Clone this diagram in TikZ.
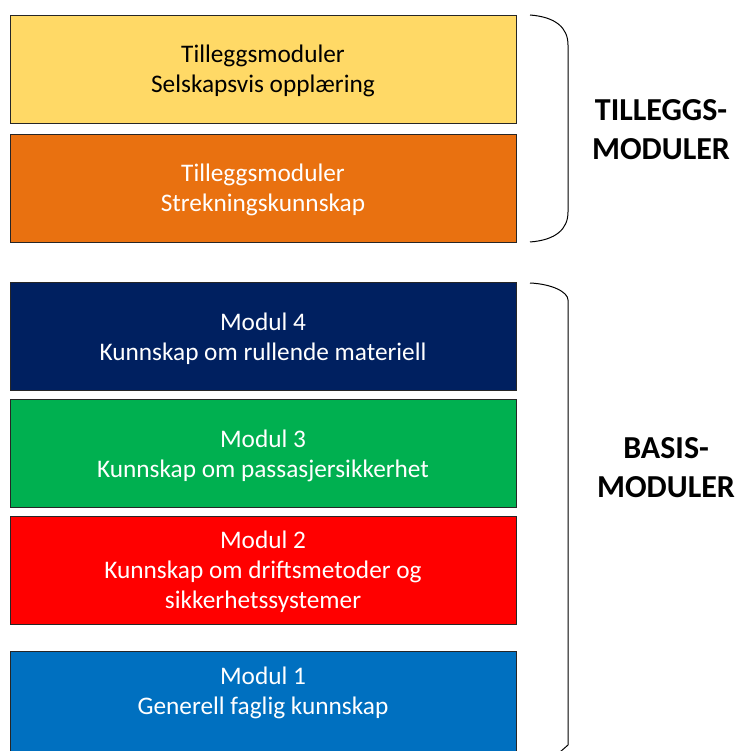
\documentclass[tikz,border=0pt]{standalone}
\usepackage{fontspec}
\setmainfont{Carlito}
\definecolor{cyellow}{HTML}{FFD966}
\definecolor{corange}{HTML}{E97110}
\definecolor{cnavy}{HTML}{002060}
\definecolor{cgreen}{HTML}{00B050}
\definecolor{cred}{HTML}{FF0000}
\definecolor{cblue}{HTML}{0070C0}
\tikzset{
  modbox/.style={draw=black!85, line width=0.9pt, minimum width=506pt, minimum height=108pt, inner sep=0pt},
  modtext/.style={text=white, align=center, font=\fontsize{25.3}{30}\selectfont},
  bracepath/.style={draw=black, line width=1pt},
  grplabel/.style={align=center, font=\bfseries\fontsize{32}{39}\selectfont}
}
\begin{document}
\begin{tikzpicture}[x=1pt,y=-1pt]
\useasboundingbox (0,0) rectangle (745,751);
\node[modbox, fill=cyellow] (m6) at (263,69) {};
\node[modtext, text=black] (m6t) at (263,71) {Tilleggsmoduler\\Selskapsvis opplæring};
\node[modbox, fill=corange] (m5) at (263,188) {};
\node[modtext] (m5t) at (263,190) {Tilleggsmoduler\\Strekningskunnskap};
\node[modbox, fill=cnavy] (m4) at (263,336.5) {};
\node[modtext] (m4t) at (263,338.5) {Modul 4\\Kunnskap om rullende materiell};
\node[modbox, fill=cgreen] (m3) at (263,453.5) {};
\node[modtext] (m3t) at (263,455.5) {Modul 3\\Kunnskap om passasjersikkerhet};
\node[modbox, fill=cred] (m2) at (263,570) {};
\node[modtext] (m2t) at (263,572) {Modul 2\\Kunnskap om driftsmetoder og\\sikkerhetssystemer};
\node[modbox, fill=cblue, minimum height=110pt] (m1) at (263,706) {};
\node[modtext] (m1t) at (263,692.5) {Modul 1\\Generell faglig kunnskap};
% braces
\coordinate (b1s) at (530,15);
\coordinate (b1e) at (530,242);
\draw[bracepath] (b1s) .. controls (556,17) and (568,28) .. (568,45) -- (568,212) .. controls (568,229) and (556,240) .. (b1e);
\coordinate (b2s) at (530,283);
\coordinate (b2e) at (560,752);
\draw[bracepath] (b2s) .. controls (552,284) and (568,292) .. (568,300) -- (568,745) -- (b2e);
\node[grplabel] (l1) at (661,130) {TILLEGGS-\\MODULER};
\node[grplabel] (l2) at (666,468) {BASIS-\\MODULER};
\end{tikzpicture}
\end{document}
